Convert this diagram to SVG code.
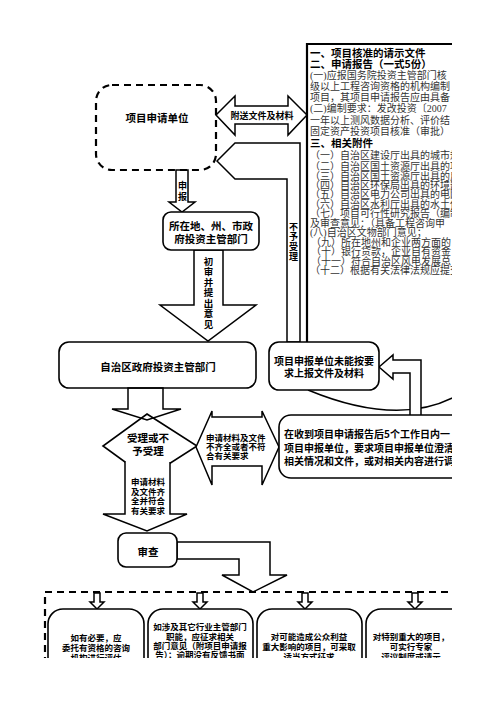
<svg xmlns="http://www.w3.org/2000/svg" width="496" height="702" viewBox="0 0 496 702">
<defs>
<clipPath id="clip"><rect x="0" y="0" width="452" height="658"/></clipPath>
</defs>
<style>
.b{fill:#fff;stroke:#000;stroke-width:1.6}
.a{fill:#fff;stroke:#000;stroke-width:1.5;stroke-linejoin:miter}
.an{fill:none;stroke:#000;stroke-width:1.5}
.t{font-family:"Noto Sans CJK SC",sans-serif;font-weight:700;fill:#000;text-anchor:middle;dominant-baseline:central}
.tl{font-family:"Noto Sans CJK SC",sans-serif;font-weight:700;fill:#000;dominant-baseline:central}
.v{font-family:"Noto Sans CJK SC",sans-serif;font-weight:700;fill:#000;writing-mode:vertical-rl;text-anchor:start}
.r{font-family:"Liberation Serif","Noto Sans CJK SC",serif;font-weight:400;fill:#333;font-size:10px;dominant-baseline:central}
.dash{fill:none;stroke:#000;stroke-width:2.2;stroke-dasharray:7 5}
</style>
<rect width="496" height="702" fill="#fff"/>
<g clip-path="url(#clip)">

<g id="connectors">
  <path d="M308 390 Q400 428 458 395" class="an"/>
  <polygon class="a" points="216,115 235,96 235,106 288,106 288,96 307,115 288,135 288,124 235,124 235,135"/>
  <text class="t" x="262" y="115" font-size="9">附送文件及材料</text>
  <polygon class="a" points="217,161 235,143 300,143 300,342 287,342 287,179 235,179"/>
  <text class="v" x="293.5" y="222.5" font-size="9" letter-spacing="1">不予受理</text>
  <polygon class="a" points="176,170 188,170 188,202 195,202 182,212 169,202 176,202"/>
  <text class="v" x="182.5" y="181.5" font-size="9" letter-spacing="2">申报</text>
  <polygon class="a" points="194,250 223,250 223,305 256,305 208,341 160,305 194,305"/>
  <text class="v" x="208.5" y="256.2" font-size="9.5" letter-spacing="1">初审并提出意见</text>
  <polygon class="a" points="379,367 393,355 393,360 421,360 421,416 410,416 410,373 393,373 393,379"/>
  <polygon class="a" points="177,542 270,542 270,575 287,575 253,592 222,575 239,575 239,559 177,559"/>
</g>

<g id="n-applicant">
  <rect class="dash" x="96" y="85" width="120" height="85" rx="16"/>
  <text class="t" x="157" y="117" font-size="10.5">项目申请单位</text>
</g>

<g id="n-docs">
  <path d="M307 342 V44 H460" fill="none" stroke="#000" stroke-width="2.2"/>
  <text class="tl" font-size="10.5"><tspan x="310" y="52">一、项目核准的请示文件</tspan><tspan x="310" y="63">二、申请报告（一式5份）</tspan></text>
  <text class="r"><tspan x="310" y="74.5">(一)应报国务院投资主管部门核</tspan><tspan x="310" y="85.5">级以上工程咨询资格的机构编制</tspan><tspan x="310" y="97">项目，其项目申请报告应由具备</tspan><tspan x="310" y="108">(二)编制要求：发改投资〔2007</tspan><tspan x="310" y="119.5">一年以上测风数据分析、评价结</tspan><tspan x="310" y="130.5">固定资产投资项目核准（审批）</tspan></text>
  <text class="tl" x="310" y="142" font-size="10.5">三、相关附件</text>
  <text class="r"><tspan x="310" y="155">（一）自治区建设厅出具的城市规</tspan><tspan x="310" y="166">（二）自治区国土资源厅出具的项</tspan><tspan x="310" y="176">（三）自治区国土资源厅出具的用</tspan><tspan x="310" y="185">（四）自治区环保局出具的环境影</tspan><tspan x="310" y="194">（五）自治区电力公司出具的电网</tspan><tspan x="310" y="203.5">（六）自治区水利厅出具的水土保</tspan><tspan x="310" y="213">（七）项目可行性研究报告（编制</tspan><tspan x="310" y="222.5">及审查意见：（具备工程咨询甲</tspan><tspan x="310" y="232">(八)自治区文物部门意见；</tspan><tspan x="311" y="242">（九）所在地州和企业两方面的</tspan><tspan x="311" y="251">（十）银行贷款，企业自有资金</tspan><tspan x="311" y="260.5">（十一）符合自治区风电发展总</tspan><tspan x="310" y="270">（十二）根据有关法律法规应提交</tspan></text>
</g>

<g id="n-local">
  <rect class="b" x="163" y="212" width="96" height="38" rx="8"/>
  <text class="t" font-size="10.5"><tspan x="211" y="225">所在地、州、市政</tspan><tspan x="211" y="238">府投资主管部门</tspan></text>
</g>

<g id="n-region">
  <rect class="b" x="59" y="342" width="197" height="46" rx="10"/>
  <text class="t" x="158" y="366" font-size="10.5">自治区政府投资主管部门</text>
</g>

<g id="n-reject">
  <rect class="b" x="269" y="342" width="110" height="48" rx="10"/>
  <text class="t" font-size="10"><tspan x="324" y="360">项目申报单位未能按要</tspan><tspan x="324" y="372">求上报文件及材料</tspan></text>
</g>

<g id="n-decision">
  <polygon class="b" points="147,414 197,446 147,478 103,446"/>
  <text class="t" font-size="10.5"><tspan x="148" y="437">受理或不</tspan><tspan x="148" y="450">予受理</tspan></text>
</g>

<g id="connectors-2">
  <polygon class="an" points="128,388 163,388 163,409 181,409 147,420 112,409 128,409"/>
  <polygon class="a" points="196,447 212,411 212,417 262,417 262,411 279,447 262,485 262,466 212,466 212,485"/>
  <text class="tl" font-size="8.5"><tspan x="206" y="437">申请材料及文件</tspan><tspan x="206" y="446">不齐全或者不符</tspan><tspan x="206" y="455">合有关要求</tspan></text>
  <polygon points="125,460 170,460 170,514 187,514 147,531 103,514 125,514" fill="#fff" stroke="none"/>
  <path class="an" d="M125 461 V514 H103 L147 531 L187 514 H170 V462"/>
  <text class="t" font-size="8.5"><tspan x="148" y="481">申请材料</tspan><tspan x="148" y="490.5">及文件齐</tspan><tspan x="148" y="500">全并符合</tspan><tspan x="148" y="509.5">有关要求</tspan></text>
</g>

<g id="n-notice">
  <rect class="b" x="279" y="415" width="200" height="63" rx="12"/>
  <text class="tl" font-size="10"><tspan x="284" y="433">在收到项目申请报告后5个工作日内一</tspan><tspan x="284" y="446.5">项目申报单位，要求项目申报单位澄清</tspan><tspan x="284" y="460">相关情况和文件，或对相关内容进行调</tspan></text>
</g>

<g id="n-review">
  <rect class="b" x="118" y="533" width="59" height="34" rx="8"/>
  <text class="t" x="148" y="551" font-size="10.5">审查</text>
</g>

<g id="n-container">
  <path class="dash" d="M45 700 V592 H450"/>
  <polygon class="a" points="94,593 100,593 100,602 104,602 97,609 90,602 94,602"/>
  <polygon class="a" points="197,593 203,593 203,602 207,602 200,609 193,602 197,602"/>
  <polygon class="a" points="302,593 308,593 308,602 312,602 305,609 298,602 302,602"/>
  <polygon class="a" points="412,593 418,593 418,602 422,602 415,609 408,602 412,602"/>
</g>

<g id="n-b1">
  <rect class="b" x="48" y="609" width="96" height="80" rx="15"/>
  <text class="t" font-size="8.5"><tspan x="96" y="637">如有必要，应</tspan><tspan x="96" y="647">委托有资格的咨询</tspan><tspan x="96" y="657">机构进行评估</tspan></text>
</g>
<g id="n-b2">
  <rect class="b" x="148" y="609" width="105" height="80" rx="15"/>
  <text class="t" font-size="8.5"><tspan x="200" y="626">如涉及其它行业主管部门</tspan><tspan x="200" y="635.5">职能，应征求相关</tspan><tspan x="200" y="645">部门意见（附项目申请报</tspan><tspan x="200" y="654">告）；逾期没有反馈书面</tspan></text>
</g>
<g id="n-b3">
  <rect class="b" x="257" y="609" width="105" height="80" rx="15"/>
  <text class="t" font-size="8.5"><tspan x="309" y="636">对可能造成公众利益</tspan><tspan x="309" y="646">重大影响的项目，可采取</tspan><tspan x="309" y="656">适当方式征求</tspan></text>
</g>
<g id="n-b4">
  <rect class="b" x="366" y="609" width="110" height="80" rx="15"/>
  <text class="t" font-size="8.5"><tspan x="411" y="636">对特别重大的项目，</tspan><tspan x="411" y="646">可实行专家</tspan><tspan x="411" y="656">评议制度或请示</tspan></text>
</g>

</g>
</svg>
